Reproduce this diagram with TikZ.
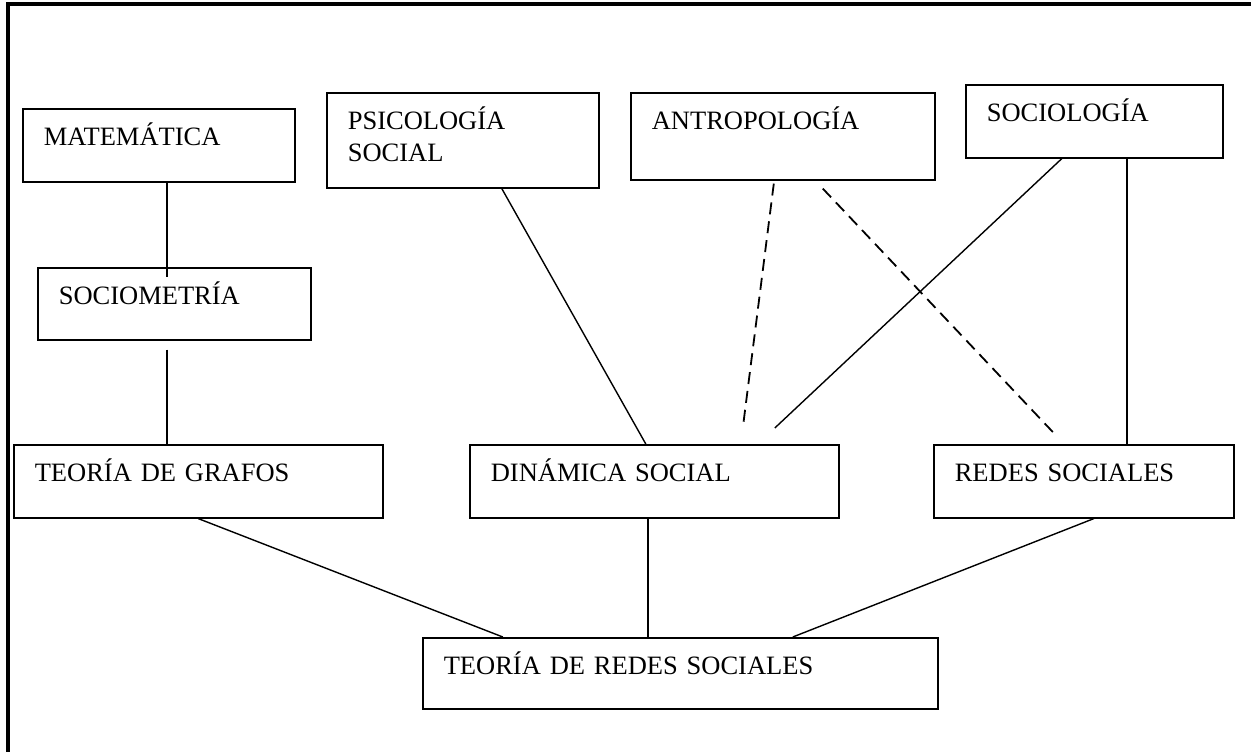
\documentclass[tikz,border=0pt]{standalone}
\usepackage{fontspec}
\setmainfont{Liberation Serif}
\usetikzlibrary{calc}
\tikzset{
	caja/.style={draw, line width=1.6pt, anchor=north west, inner xsep=21pt, inner ysep=0pt, align=left, text height=37pt, font=\fontsize{26.5}{32}\selectfont},
	enlace/.style={line width=1.4pt},
	punteado/.style={line width=1.8pt, dash pattern=on 12pt off 7pt}
}

\begin{document}
\begin{tikzpicture}[x=1pt, y=-1pt]
			%%%%% START %%%%%
			\useasboundingbox (0, 0) rectangle (1251, 752);
			
			\draw[line width=3.5pt] (1251, 4) -- (8, 4) -- (8, 752);
			
			% fila de arriba
			\node[caja, text width=230pt, text depth=36pt] (mat) at (22, 108) {MATEMÁTICA};
			\node[caja, text width=230pt, text depth=58pt] (psi) at (326, 92) {PSICOLOGÍA\\SOCIAL};
			\node[caja, text width=262pt, text depth=50pt] (ant) at (630, 92) {ANTROPOLOGÍA};
			\node[caja, text width=215pt, text depth=36pt] (soc) at (965, 84) {SOCIOLOGÍA};
			
			\node[caja, text width=231pt, text depth=35pt] (som) at (37, 267) {SOCIOMETRÍA};
			
			% fila del medio
			\node[caja, text width=327pt, text depth=36pt] (tgr) at (13, 444) {TEORÍA DE GRAFOS};
			\node[caja, text width=327pt, text depth=36pt] (din) at (469, 444) {DINÁMICA SOCIAL};
			\node[caja, text width=258pt, text depth=36pt] (red) at (933, 444) {REDES SOCIALES};
			
			\node[caja, text width=473pt, text depth=34pt] (trs) at (422, 637) {TEORÍA DE REDES SOCIALES};
			
			% enlaces
			\draw[enlace] ([xshift=8pt]mat.south) -- ([xshift=-7.5pt, yshift=-10pt]som.north);
			\draw[enlace] ([xshift=-7.5pt, yshift=-9pt]som.south) -- ([xshift=-7.5pt]som.south |- tgr.north);
			\draw[enlace] ([xshift=39pt]psi.south) -- ([xshift=-8.5pt]din.north);
			
			\draw[punteado] ([xshift=-9pt, yshift=-3pt]ant.south) -- ([xshift=88.5pt, yshift=16pt]din.north);
			\draw[punteado] ([xshift=40pt, yshift=-8pt]ant.south) -- ([xshift=-31pt, yshift=12pt]red.north);
			
			\draw[enlace] ([xshift=-32.5pt]soc.south) -- ([xshift=120.5pt, yshift=16pt]din.north);
			\draw[enlace] ([xshift=32.5pt]soc.south) -- ([xshift=32.5pt]soc.south |- red.north);
			
			\draw[enlace] (tgr.south) -- ([xshift=-177.5pt]trs.north);
			\draw[enlace] ([xshift=-6.5pt]din.south) -- ([xshift=-32.5pt]trs.north);
			\draw[enlace] ([xshift=10pt]red.south) -- ([xshift=112.5pt]trs.north);
			
			%%%%% END %%%%%
\end{tikzpicture}
\end{document}
